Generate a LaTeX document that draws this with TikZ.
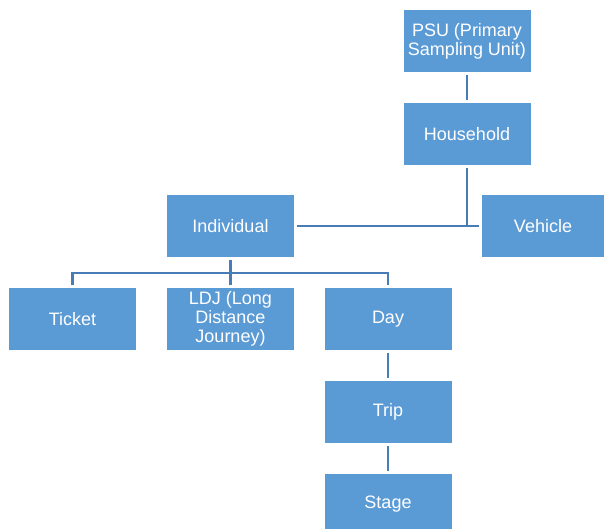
\documentclass[tikz,border=0pt]{standalone}
\usepackage{fontspec}
\setmainfont{Liberation Sans}
\definecolor{boxfill}{RGB}{91,155,213}
\definecolor{linecol}{RGB}{72,124,182}
\tikzset{
  box/.style={fill=boxfill, text=white, minimum width=127pt, minimum height=62pt,
    inner sep=0pt, outer sep=0pt, align=center,
    font=\fontsize{18}{19}\selectfont},
  conn/.style={draw=linecol, line width=2.6pt, shorten <=3pt, shorten >=3pt},
  connin/.style={draw=linecol, line width=2.6pt, shorten <=3pt}
}
\begin{document}
\begin{tikzpicture}[x=1pt,y=-1pt]
\useasboundingbox (0,0) rectangle (604,528);
\clip (0,0) rectangle (604,528);
\node[box] (psu) at (467,41) {PSU (Primary\\Sampling Unit)};
\node[box] (hh) at (467,134) {Household};
\node[box] (ind) at (230.5,226) {Individual};
\node[box, minimum width=122pt] (veh) at (543,226) {Vehicle};
\node[box] (ticket) at (72.5,319) {Ticket};
\node[box] (ldj) at (230.5,319) {LDJ (Long\\Distance\\Journey)};
\node[box] (day) at (388,319) {Day};
\node[box] (trip) at (388,412) {Trip};
\node[box] (stage) at (388,504.5) {Stage};
\coordinate (j1) at (467,227.3);
\coordinate (j2) at (230.5,273);
\draw[conn] (psu) -- (hh);
\draw[connin] (hh) -- (j1);
\draw[conn] (ind) -- (veh);
\draw[connin] (ind) -- (j2);
\draw[conn] (ticket) |- (j2) -| (day);
\draw[connin] (ldj) -- (j2);
\draw[conn] (day) -- (trip);
\draw[conn] (trip) -- (stage);
\end{tikzpicture}
\end{document}
